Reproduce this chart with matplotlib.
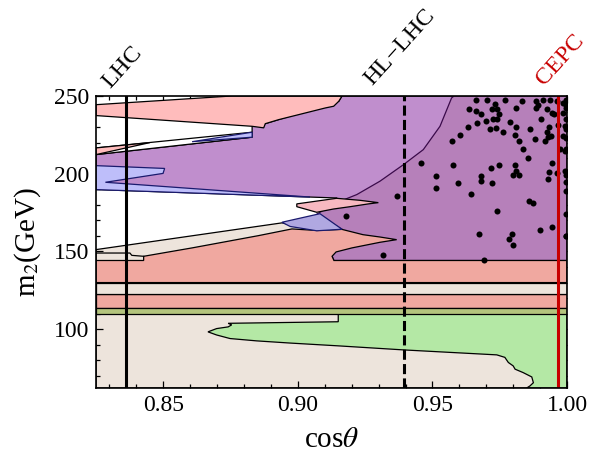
import numpy as np
import matplotlib.pyplot as plt
from matplotlib.ticker import MultipleLocator
import matplotlib.transforms as mtransforms

plt.rcParams['font.family'] = ['Liberation Serif', 'DejaVu Serif']
plt.rcParams['mathtext.fontset'] = 'stix'

# axis ranges
x_range = (0.825, 1.0)
y_range = (62.2, 250)

# horizontal mass bands (GeV)
band_salmon_low = (113.7, 122.6)
band_beige = (122.6, 130.0)
band_olive = (109.7, 113.7)

# region outlines, (cos theta, m2)
beige_base = [(0.825, 62.2), (1.0, 62.2), (1.0, 140), (0.910, 140), (0.9071, 163.3),
              (0.8941, 168.4), (0.825, 151.2)]
green_region = [(0.8741, 103.8), (0.8754, 102.8), (0.8741, 101.5), (0.8698, 100.4), (0.8666, 98.3),
                (0.8698, 96.3), (0.8748, 94.0), (0.8847, 92.5), (0.8971, 91.1), (0.9150, 89.3),
                (0.9392, 86.7), (0.9739, 83.5), (0.9769, 81.9), (0.9782, 78.6), (0.9800, 76.4),
                (0.9807, 74.3), (0.9837, 72.1), (0.9869, 69.3), (0.9875, 65.6), (0.9862, 63.5),
                (0.9850, 62.2), (1.0, 62.2), (1.0, 109.7), (0.9150, 109.7), (0.9150, 104.8)]
salmon_region = [(0.825, 130), (1.0, 130), (1.0, 144.2), (0.9134, 144.2), (0.9127, 146.9),
                 (0.9142, 149.7), (0.9201, 152.3), (0.9305, 155.9), (0.9367, 157.6), (0.9305, 159.3),
                 (0.9242, 160.8), (0.9164, 164.2), (0.9071, 163.5), (0.8978, 164.5), (0.8854, 160.2),
                 (0.8607, 152.3), (0.8427, 146.9), (0.8427, 144.2), (0.825, 144.2)]
notch_line = [(0.825, 149.0), (0.8376, 149.0), (0.8383, 147.5), (0.8427, 146.9)]
purple_light = [(0.825, 212.3), (0.8830, 223.5), (0.8830, 230.5), (0.8879, 232.2), (0.9152, 246.6),
                (0.9164, 250), (1.0, 250), (1.0, 144.2), (0.9134, 144.2), (0.9164, 164.2),
                (0.9145, 175.0), (0.9145, 184.4), (0.825, 189.8)]
purple_dark = [(0.958, 250), (0.9571, 248.7), (0.9528, 230.5), (0.9466, 215.5), (0.9392, 205.8),
               (0.9305, 195.2), (0.9219, 186.6), (0.9144, 181.4), (0.9070, 174.0), (0.9164, 164.3),
               (0.9127, 147.0), (0.9134, 144.2), (1.0, 144.2), (1.0, 250)]
pink_top = [(0.825, 244.4), (0.8755, 250), (0.9164, 250), (0.9152, 246.6), (0.9133, 243.4),
            (0.9102, 242.3), (0.9003, 238.0), (0.8929, 234.8), (0.8879, 232.2), (0.8873, 229.5),
            (0.8830, 230.5), (0.825, 237.4)]
thin_band = [(0.825, 216.6), (0.8830, 226.7), (0.8830, 223.5), (0.825, 212.3)]
pink_wedge = [(0.825, 216.6), (0.845, 220.0), (0.825, 212.3)]
blue_wedge = [(0.8607, 220.6), (0.8830, 226.7), (0.8830, 223.5)]
blue_left = [(0.825, 205.2), (0.8505, 203.4), (0.8499, 200.2), (0.8285, 194.5), (0.9045, 185.0),
             (0.825, 189.8)]
blue_lobe = [(0.8941, 168.8), (0.9082, 174.3), (0.9164, 164.3), (0.9070, 163.3), (0.8971, 166.1)]
pink_lobe = [(0.8996, 180.6), (0.9144, 184.2), (0.9231, 182.9), (0.9299, 181.4), (0.9262, 180.6),
             (0.9194, 178.8), (0.9132, 177.3), (0.9070, 175.2), (0.8996, 178.8)]

# scan points
dot_c = [0.9661, 0.9701, 0.9771, 0.9831, 0.9884, 0.9911, 0.9936, 0.9961, 0.9986, 0.9995,
         0.9637, 0.9661, 0.9682, 0.9723, 0.9734, 0.9738, 0.9747, 0.9812, 0.9884, 0.9893,
         0.9924, 0.9946, 0.9951, 0.9986, 0.9995, 0.9667, 0.9698, 0.9726, 0.9738, 0.9788,
         0.9736, 0.9713, 0.9763, 0.9812, 0.9862, 0.9905, 0.9934, 0.9924, 0.9967, 0.9996,
         0.9992, 0.9633, 0.9602, 0.9571, 0.9806, 0.9821, 0.9880, 0.9918, 0.9930, 0.9940,
         0.9986, 0.9996, 0.9837, 0.9856, 0.9973, 0.9992, 0.9456, 0.9577, 0.9717, 0.9747,
         0.9806, 0.9812, 0.9800, 0.9821, 0.9946, 0.9934, 0.9961, 0.9992, 0.9996, 0.9515,
         0.9515, 0.9596, 0.9680, 0.9680, 0.9722, 0.9930, 0.9996, 0.9367, 0.9643, 0.9858,
         0.9874, 0.9177, 0.9741, 0.9674, 0.9794, 0.9784, 0.9800, 0.9899, 0.9946, 0.9996,
         0.9317, 0.9692, 0.9996, 0.9996, 0.9996, 0.9996, 0.9996, 0.9996]
dot_m = [247.7, 247.7, 247.7, 246.6, 246.6, 247.7, 247.3, 246.6, 245.6, 247.7,
         241.7, 240.2, 238.7, 241.7, 245.1, 241.7, 238.7, 242.4, 242.4, 243.9,
         241.7, 239.1, 238.1, 239.1, 242.4, 232.7, 233.8, 235.3, 235.3, 233.1,
         229.5, 228.8, 226.7, 229.9, 228.8, 235.3, 229.9, 226.7, 231.6, 234.9,
         230.6, 229.9, 225.2, 221.3, 224.6, 221.3, 222.4, 221.3, 223.5, 224.1,
         224.1, 223.1, 216.0, 209.8, 215.6, 214.5, 206.6, 205.9, 203.8, 205.9,
         205.9, 201.6, 199.5, 199.5, 207.0, 201.2, 200.5, 201.6, 199.5, 198.4,
         190.9, 194.1, 198.4, 195.2, 194.1, 196.3, 194.5, 185.5, 187.0, 182.3,
         181.3, 173.1, 176.3, 161.5, 161.5, 158.3, 154.0, 163.7, 165.8, 160.2,
         148.0, 144.6, 244.0, 228.7, 215.8, 188.9, 174.0, 160.0]

# experimental reaches in cos theta
lhc_x = 0.8363
hllhc_x = 0.9394
cepc_x = 0.9966

fig = plt.figure(figsize=(5.89, 4.63), dpi=100)
ax = fig.add_axes([0.163, 0.162, 0.7997, 0.6307])


def region(pts, face, edge='black', z=1):
    ax.fill([p[0] for p in pts], [p[1] for p in pts], facecolor=face,
            edgecolor=edge, linewidth=0.9, zorder=z)


region(beige_base, '#EDE4DC', z=1)
region(green_region, '#B4E8A5', z=2)
for lo, hi, col in [(band_salmon_low[0], band_salmon_low[1], '#F0A8A0'),
                    (band_beige[0], band_beige[1], '#EDE4DC'),
                    (band_olive[0], band_olive[1], '#B4C47D')]:
    region([(x_range[0], lo), (x_range[1], lo), (x_range[1], hi), (x_range[0], hi)], col, z=2)

region(purple_light, '#C08ECD', z=3)
region(purple_dark, '#B680BA', edge='#3A0A4A', z=4)
region(salmon_region, '#F0A8A0', z=5)
ax.plot([p[0] for p in notch_line], [p[1] for p in notch_line], color='black', lw=0.9, zorder=5)
region(pink_top, '#FFBCBC', z=6)
region(thin_band, 'white', z=6)
region(pink_wedge, '#FFBCBC', z=6.2)
region(blue_wedge, '#BEBEFA', edge='#1A1A6E', z=6.2)
region(blue_left, '#BEBEFA', edge='#1A1A6E', z=6.3)
region(blue_lobe, '#B0A8E1', edge='#1A1A6E', z=6.3)
region(pink_lobe, '#F7B9C1', z=6.4)

ax.scatter(dot_c, dot_m, s=19, color='black', zorder=7, linewidths=0)

ax.axvline(lhc_x, color='black', lw=2.2, zorder=8)
ax.axvline(hllhc_x, color='black', lw=2.2, dashes=(3.3, 1.4), zorder=8)
ax.axvline(cepc_x, color='#C80000', lw=2.2, zorder=8)

trans = mtransforms.blended_transform_factory(ax.transData, ax.transAxes)
ax.text(lhc_x - 0.0015, 1.098, 'LHC', transform=trans, rotation=48, ha='center', va='center',
        fontsize=17.5, clip_on=False)
ax.text(hllhc_x - 0.0015, 1.166, 'HL\u2212LHC', transform=trans, rotation=48, ha='center',
        va='center', fontsize=17.5, clip_on=False)
ax.text(cepc_x + 0.0010, 1.123, 'CEPC', transform=trans, rotation=48, ha='center', va='center',
        fontsize=17.5, color='#C80000', clip_on=False)

ax.set_xlim(*x_range)
ax.set_ylim(*y_range)
ax.set_xticks([0.85, 0.90, 0.95, 1.00])
ax.set_xticklabels(['0.85', '0.90', '0.95', '1.00'])
ax.set_yticks([100, 150, 200, 250])
ax.xaxis.set_minor_locator(MultipleLocator(0.01))
ax.yaxis.set_minor_locator(MultipleLocator(10))
ax.tick_params(which='both', direction='in', top=True, right=True, labelsize=17, width=0.9)
ax.tick_params(which='major', length=5, pad=5)
ax.tick_params(which='minor', length=2.8)
for s in ax.spines.values():
    s.set_linewidth(1.2)
    s.set_zorder(9)

ax.set_xlabel(r'cos$\theta$', fontsize=21, labelpad=8)
ax.set_ylabel(r'm$_2$(GeV)', fontsize=21, labelpad=8)

fig.savefig('out.png', dpi=100)
